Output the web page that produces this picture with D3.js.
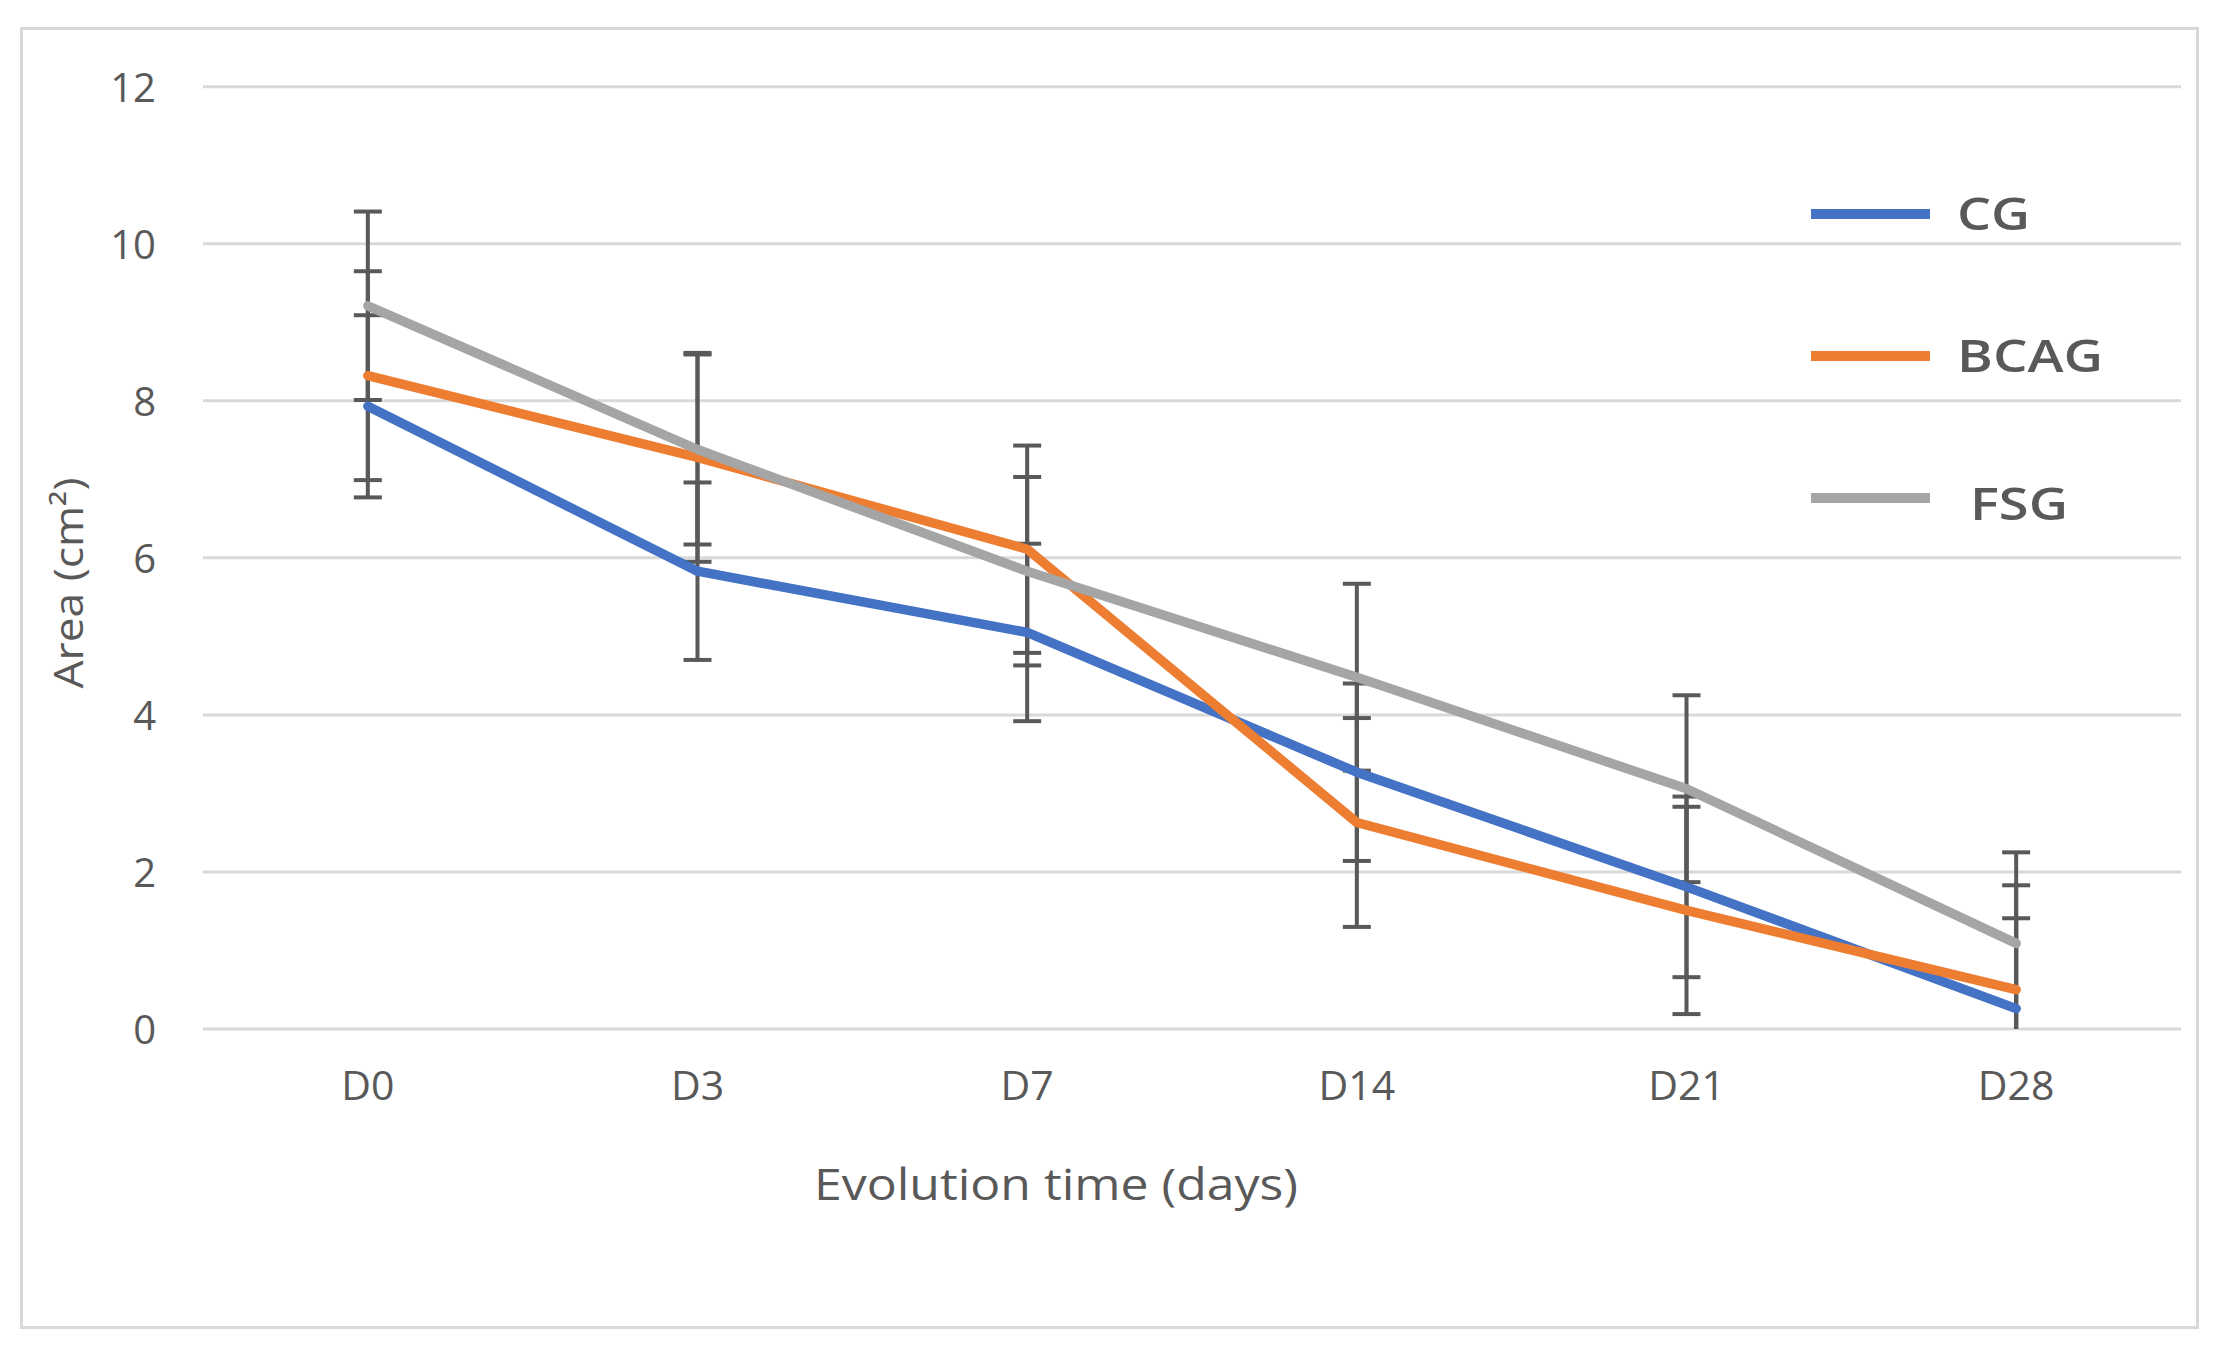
<!DOCTYPE html>
<html>
<head>
<meta charset="utf-8">
<script src="https://cdn.jsdelivr.net/npm/d3@7"></script>
<style>
  html, body { margin: 0; padding: 0; background: #ffffff; }
  svg { display: block; }
  text { font-family: "Open Sans", "Noto Sans", sans-serif; fill: #595959; }
</style>
</head>
<body>
<svg id="chart" width="2213" height="1354"></svg>
<script>
// ---- data ----
const categories = ["D0", "D3", "D7", "D14", "D21", "D28"];
const seriesNames = ["CG", "BCAG", "FSG"];
const cgValues   = [7.93, 5.83, 5.05, 3.27, 1.81, 0.26];
const cgErrors   = [1.16, 1.13, 1.13, 1.13, 1.15, 1.15];
const bcagValues = [8.32, 7.28, 6.11, 2.63, 1.51, 0.50];
const bcagErrors = [1.33, 1.33, 1.32, 1.33, 1.32, 1.33];
const fsgValues  = [9.21, 7.38, 5.83, 4.48, 3.06, 1.09];
const fsgErrors  = [1.20, 1.21, 1.20, 1.19, 1.19, 1.16];
const yTicks = [0, 2, 4, 6, 8, 10, 12];
const xTitle = "Evolution time (days)";
const yTitle = "Area (cm²)";
const colors = ["#4472C4", "#ED7D31", "#A5A5A5"];

const series = [
  { name: seriesNames[0], values: cgValues, errors: cgErrors, color: colors[0] },
  { name: seriesNames[1], values: bcagValues, errors: bcagErrors, color: colors[1] },
  { name: seriesNames[2], values: fsgValues, errors: fsgErrors, color: colors[2] }
];

// ---- layout ----
const plot = { left: 203, right: 2181, top: 86.7, bottom: 1029 };

const svg = d3.select("#chart");

// outer frame
svg.append("rect")
  .attr("x", 21.5).attr("y", 28.5)
  .attr("width", 2176).attr("height", 1299)
  .attr("fill", "#ffffff").attr("stroke", "#d9d9d9").attr("stroke-width", 3);

const x = d3.scaleBand().domain(categories).range([plot.left, plot.right]).padding(0);
const y = d3.scaleLinear().domain([0, 12]).range([plot.bottom, plot.top]);

// gridlines
svg.append("g").selectAll("line").data(yTicks).join("line")
  .attr("x1", plot.left).attr("x2", plot.right)
  .attr("y1", d => y(d)).attr("y2", d => y(d))
  .attr("stroke", "#d9d9d9").attr("stroke-width", 3);

// y axis labels
const yAxis = d3.axisLeft(y).tickValues(yTicks).tickSize(0).tickPadding(0);
const gy = svg.append("g").attr("transform", `translate(156,0)`).call(yAxis);
gy.select(".domain").remove();
gy.selectAll("text")
  .style("font-size", "40px")
  .style("font-family", "'Open Sans', sans-serif")
  .attr("fill", "#595959")
  .attr("dy", "0.36em");

// x axis labels
const xAxis = d3.axisBottom(x).tickSize(0).tickPadding(0);
const gx = svg.append("g").attr("transform", `translate(0,1070)`).call(xAxis);
gx.select(".domain").remove();
gx.selectAll("text")
  .style("font-size", "41px")
  .style("font-family", "'Open Sans', sans-serif")
  .attr("fill", "#595959")
  .attr("dy", "0.72em");

// axis titles
svg.append("text")
  .attr("x", 1056).attr("y", 1200)
  .attr("text-anchor", "middle")
  .style("font-size", "43px")
  .attr("textLength", 484).attr("lengthAdjust", "spacingAndGlyphs")
  .text(xTitle);

svg.append("text")
  .attr("transform", "translate(83,583) rotate(-90)")
  .attr("text-anchor", "middle")
  .style("font-size", "40px")
  .attr("textLength", 211).attr("lengthAdjust", "spacingAndGlyphs")
  .text(yTitle);

// error bars (drawn beneath the lines)
const capHalf = 14;
const eg = svg.append("g");
series.forEach(s => {
  s.values.forEach((v, i) => {
    const cx = x(categories[i]) + x.bandwidth() / 2;
    const hiV = v + s.errors[i];
    const loRaw = v - s.errors[i];
    const loV = Math.max(0, loRaw);
    eg.append("line")
      .attr("x1", cx).attr("x2", cx)
      .attr("y1", y(hiV)).attr("y2", y(loV))
      .attr("stroke", "#595959").attr("stroke-width", 4);
    eg.append("line")
      .attr("x1", cx - capHalf).attr("x2", cx + capHalf)
      .attr("y1", y(hiV)).attr("y2", y(hiV))
      .attr("stroke", "#595959").attr("stroke-width", 4);
    if (loRaw >= 0) {
      eg.append("line")
        .attr("x1", cx - capHalf).attr("x2", cx + capHalf)
        .attr("y1", y(loV)).attr("y2", y(loV))
        .attr("stroke", "#595959").attr("stroke-width", 4);
    }
  });
});

// lines
const lineGen = d3.line()
  .x((d, i) => x(categories[i]) + x.bandwidth() / 2)
  .y(d => y(d));

svg.append("g").selectAll("path").data(series).join("path")
  .attr("d", d => lineGen(d.values))
  .attr("fill", "none")
  .attr("stroke", d => d.color)
  .attr("stroke-width", 9.5)
  .attr("stroke-linejoin", "round")
  .attr("stroke-linecap", "round");

// legend
const legendY = d3.scaleLinear().domain([0, 2]).range([214, 498]);
const legendTextX = [1957, 1957, 1970];
const legendTextW = [73, 146, 98];
const lg = svg.append("g");
series.forEach((s, i) => {
  const ly = legendY(i);
  lg.append("line")
    .attr("x1", 1811).attr("x2", 1930)
    .attr("y1", ly).attr("y2", ly)
    .attr("stroke", s.color).attr("stroke-width", 10);
  lg.append("text")
    .attr("x", legendTextX[i]).attr("y", ly + (i === 2 ? 6 : 0))
    .attr("dy", "0.36em")
    .style("font-size", "45px")
    .style("font-weight", "600")
    .attr("textLength", legendTextW[i]).attr("lengthAdjust", "spacingAndGlyphs")
    .attr("fill", "#595959")
    .text(s.name);
});
</script>
</body>
</html>
